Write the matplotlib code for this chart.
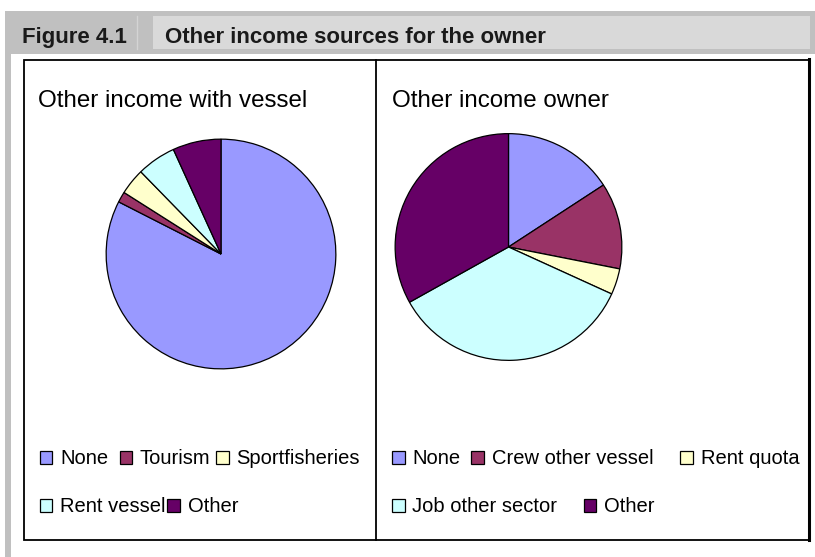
import matplotlib
matplotlib.use("Agg")
import matplotlib.pyplot as plt
from matplotlib.patches import Rectangle

plt.rcParams['font.family'] = ['Liberation Sans', 'DejaVu Sans']

# data (shares in percent)
vessel_labels = ['None', 'Tourism', 'Sportfisheries', 'Rent vessel', 'Other']
vessel_values = [82.5, 1.5, 3.7, 5.5, 6.8]

owner_labels = ['None', 'Crew other vessel', 'Rent quota', 'Job other sector', 'Other']
owner_values = [15.8, 12.3, 3.7, 35.1, 33.1]

colors = ['#9999FF', '#993366', '#FFFFCC', '#CCFFFF', '#660066']

fig_title_no = 'Figure 4.1'
fig_title = 'Other income sources for the owner'
left_title = 'Other income with vessel'
right_title = 'Other income owner'

W, H = 815, 557
fig = plt.figure(figsize=(W / 100, H / 100), dpi=100)
fig.patch.set_facecolor('white')

# background axes in pixel coordinates
bg = fig.add_axes([0, 0, 1, 1])
bg.set_xlim(0, W)
bg.set_ylim(H, 0)
bg.axis('off')

# gray frame: left bar and header band
bg.add_patch(Rectangle((5, 11), 5.5, H - 11, color='#c0c0c0', lw=0))
bg.add_patch(Rectangle((5, 11), W - 5, 42.5, color='#c0c0c0', lw=0))
bg.add_patch(Rectangle((153, 16), 657, 33, color='#d9d9d9', lw=0))
bg.plot([137, 137], [16, 49], color='#d4d4d4', lw=1)
bg.text(22.5, 43.3, fig_title_no, fontsize=16, fontweight='bold', color='#1a1a1a')
bg.text(165, 43.3, fig_title, fontsize=16, fontweight='bold', color='#1a1a1a')

# panel box
bg.add_patch(Rectangle((23.5, 59.5), 785, 480, fill=False, ec='black', lw=1.3))
bg.plot([808.5, 808.5], [59, 540], color='black', lw=2.2)
bg.plot([375.7, 375.7], [59.5, 539.5], color='black', lw=1.3)

bg.text(38, 107, left_title, fontsize=17.4, color='black')
bg.text(392, 107, right_title, fontsize=17.4, color='black')


def draw_pie(cx, cy, r, values):
    ax = fig.add_axes([(cx - r) / W, 1 - (cy + r) / H, 2 * r / W, 2 * r / H])
    ax.pie(values, colors=colors, startangle=90, counterclock=False,
           wedgeprops=dict(edgecolor='black', linewidth=0.9))
    ax.set_xlim(-1.01, 1.01)
    ax.set_ylim(-1.01, 1.01)
    ax.set_aspect('equal')
    ax.axis('off')


draw_pie(221, 254, 116, vessel_values)
draw_pie(508.5, 247, 114.5, owner_values)


def legend_entry(x_box, x_text, base, label, color):
    bg.add_patch(Rectangle((x_box, base - 13), 12.5, 12.5, facecolor=color,
                           edgecolor='black', lw=0.9))
    bg.text(x_text, base, label, fontsize=14.5, color='black')


# left legend
left_pos = [(39.5, 60, 464), (119.5, 140, 464), (216, 236.5, 464),
            (39.5, 60, 512), (167, 188, 512)]
for (xb, xt, yb), lab, col in zip(left_pos, vessel_labels, colors):
    legend_entry(xb, xt, yb, lab, col)

# right legend
right_pos = [(392, 412.3, 464), (471, 492.3, 464), (680.3, 700.7, 464),
             (392, 412.3, 512), (583.5, 604, 512)]
for (xb, xt, yb), lab, col in zip(right_pos, owner_labels, colors):
    legend_entry(xb, xt, yb, lab, col)

fig.savefig('out.png', dpi=100)
